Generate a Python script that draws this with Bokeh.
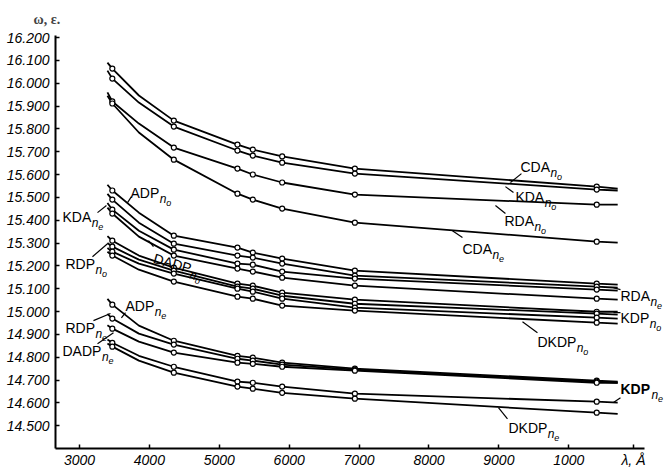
import math
from bokeh.plotting import figure
from bokeh.models import (ColumnDataSource, FixedTicker, NumeralTickFormatter,
                          LabelSet, Range1d)
from bokeh.core.properties import value
from bokeh.embed import file_html
from bokeh.resources import INLINE

# ---------------- data ----------------
# wavelengths (Å): line start, measured points ..., line end
wavelength = [3400, 3470, 3850, 4350, 5260, 5480, 5900, 6940, 10400, 10700]
measured = [False, True, False, True, True, True, True, True, True, False]

cda_no = [16.090, 16.064, 15.946, 15.836, 15.731, 15.709, 15.679, 15.626, 15.547, 15.538]
kda_no = [16.055, 16.020, 15.915, 15.810, 15.705, 15.683, 15.652, 15.604, 15.534, 15.530]
rda_no = [15.960, 15.920, 15.823, 15.718, 15.626, 15.600, 15.565, 15.512, 15.468, 15.468]
cda_ne = [15.945, 15.911, 15.784, 15.665, 15.516, 15.490, 15.451, 15.389, 15.306, 15.302]

adp_no = [15.555, 15.530, 15.433, 15.332, 15.280, 15.258, 15.232, 15.179, 15.122, 15.118]
kda_ne = [15.515, 15.490, 15.389, 15.297, 15.245, 15.236, 15.210, 15.157, 15.109, 15.104]
dadp_no = [15.475, 15.446, 15.354, 15.271, 15.210, 15.205, 15.175, 15.144, 15.096, 15.091]
rda_ne = [15.455, 15.429, 15.328, 15.245, 15.188, 15.175, 15.148, 15.113, 15.056, 15.052]
rdp_no = [15.330, 15.310, 15.245, 15.192, 15.122, 15.113, 15.083, 15.052, 14.999, 14.999]
kdp_no = [15.300, 15.284, 15.227, 15.179, 15.109, 15.100, 15.069, 15.034, 14.991, 14.986]
unlabeled_no = [15.278, 15.262, 15.210, 15.166, 15.100, 15.087, 15.056, 15.017, 14.973, 14.969]
dkdp_no = [15.262, 15.245, 15.183, 15.131, 15.065, 15.056, 15.026, 15.004, 14.951, 14.947]

adp_ne = [15.055, 15.030, 14.938, 14.872, 14.806, 14.798, 14.776, 14.750, 14.697, 14.693]
rdp_ne = [14.990, 14.969, 14.903, 14.855, 14.793, 14.785, 14.767, 14.745, 14.693, 14.688]
dadp_ne = [14.940, 14.925, 14.868, 14.820, 14.776, 14.771, 14.758, 14.741, 14.688, 14.688]
kdp_ne = [14.877, 14.863, 14.806, 14.758, 14.693, 14.688, 14.671, 14.640, 14.605, 14.601]
dkdp_ne = [14.860, 14.846, 14.785, 14.732, 14.671, 14.662, 14.644, 14.618, 14.557, 14.552]

x_ticks = [3000, 4000, 5000, 6000, 7000, 8000, 9000, 10000]
x_tick_labels = ["3000", "4000", "5000", "6000", "7000", "8000", "9000", "1000"]
x_title_pos = 10926
x_title = "λ, Å"
y_title = "ω, ε."
y_ticks = [14.5, 14.6, 14.7, 14.8, 14.9, 15.0, 15.1, 15.2, 15.3, 15.4,
           15.5, 15.6, 15.7, 15.8, 15.9, 16.0, 16.1, 16.2]

# curve labels: main text, subscript, anchor (λ, ω)
label_main = ["CDA", "KDA", "RDA", "CDA", "ADP", "KDA", "RDP", "DADP",
              "ADP", "RDP", "DADP", "RDA", "KDP", "DKDP", "KDP", "DKDP"]
label_sub = ["o", "o", "o", "e", "o", "e", "o", "o",
             "e", "e", "e", "e", "o", "o", "e", "e"]
label_lam = [9309, 9237, 9080, 8479, 3730, 2757, 2800, 4044,
             3658, 2800, 2757, 10740, 10740, 9552, 10740, 9137]
label_omega = [15.613, 15.481, 15.376, 15.253, 15.499, 15.394, 15.188, 15.214,
               15.004, 14.907, 14.806, 15.048, 14.951, 14.846, 14.640, 14.469]
label_angle = [0, 0, 0, 0, 0, 0, 0, -0.28, 0, 0, 0, 0, 0, 0, 0, 0]
label_bold = [False] * 14 + [True, False]

# leader lines from labels to curves
conn_lam0 = [9166, 9094, 8951, 8336, 3687, 3258, 3186, 3987, 3658, 3200, 3258, 10640, 10640, 9338, 10640, 8994]
conn_om0 = [15.565, 15.547, 15.464, 15.354, 15.477, 15.433, 15.240, 15.310, 14.995, 14.960, 14.859, 15.104, 14.995, 14.955, 14.601, 14.579]
conn_lam1 = [9323, 9209, 9094, 8479, 3744, 3386, 3401, 4059, 3600, 3443, 3486, 10740, 10740, 9552, 10740, 9123]
conn_om1 = [15.604, 15.521, 15.429, 15.324, 15.503, 15.464, 15.297, 15.284, 14.972, 14.991, 14.907, 15.096, 14.995, 14.907, 14.622, 14.530]

series = [cda_no, kda_no, rda_no, cda_ne, adp_no, kda_ne, dadp_no, rda_ne,
          rdp_no, kdp_no, unlabeled_no, dkdp_no, adp_ne, rdp_ne, dadp_ne, kdp_ne, dkdp_ne]

# ---------------- figure ----------------
FONT = "Liberation Sans"
SERIF = "Liberation Serif"

p = figure(width=665, height=471, output_backend="svg", toolbar_location=None,
           x_range=Range1d(2657, 11384), y_range=Range1d(14.4, 16.2307),
           min_border_left=55, min_border_right=0, min_border_top=30, min_border_bottom=23,
           title=y_title)
p.title.align = "left"
p.title.offset = -22
p.title.text_font = SERIF
p.title.text_font_size = "14px"
p.title.text_font_style = "bold"
p.title.standoff = 8
p.outline_line_color = None
p.xgrid.visible = False
p.ygrid.visible = False
p.background_fill_color = "white"
p.border_fill_color = "white"

for ax in (p.xaxis[0], p.yaxis[0]):
    ax.axis_line_width = 2
    ax.axis_line_color = "black"
    ax.major_tick_in = 4
    ax.major_tick_out = 0
    ax.major_tick_line_width = 1.5
    ax.minor_tick_in = 0
    ax.minor_tick_out = 0
    ax.major_label_text_font = FONT
    ax.major_label_text_font_style = "italic"
    ax.major_label_text_font_size = "14px"
    ax.major_label_text_color = "black"

p.xaxis.bounds = (2657, 11083)
p.yaxis.bounds = (14.4, 16.209)
p.xaxis.ticker = FixedTicker(ticks=x_ticks + [x_title_pos])
overrides = {t: s for t, s in zip(x_ticks, x_tick_labels)}
overrides[x_title_pos] = x_title
p.xaxis.major_label_overrides = overrides
p.xaxis.major_label_standoff = 3
p.yaxis.ticker = FixedTicker(ticks=y_ticks)
p.yaxis.formatter = NumeralTickFormatter(format="0.000")
p.yaxis.major_label_standoff = 6

for s in series:
    p.line(wavelength, s, line_color="black", line_width=1.8)
for s in series:
    mx = [w for w, m in zip(wavelength, measured) if m]
    my = [v for v, m in zip(s, measured) if m]
    p.scatter(mx, my, marker="circle", size=5, fill_color="white",
              line_color="black", line_width=1.2)

p.segment(conn_lam0, conn_om0, conn_lam1, conn_om1, line_color="black", line_width=1.2)

# labels with two-level subscripts
CHAR_W = {"A": 0.667, "C": 0.722, "D": 0.722, "K": 0.667, "P": 0.667, "R": 0.722}
MAIN_SIZE = 14
groups = {}
def add_piece(key, x, y, txt, dx, dy, ang):
    c, s = math.cos(ang), math.sin(ang)
    d = groups.setdefault(key, dict(x=[], y=[], text=[], xo=[], yo=[], angle=[]))
    d["x"].append(x); d["y"].append(y); d["text"].append(txt)
    d["xo"].append(dx * c - dy * s); d["yo"].append(dx * s + dy * c); d["angle"].append(ang)

for m, sub, lx, ly, ang, bold in zip(label_main, label_sub, label_lam, label_omega, label_angle, label_bold):
    w = sum(CHAR_W[ch] for ch in m) * MAIN_SIZE * (1.06 if bold else 1.0) + 0.5
    style = "bold" if bold else "normal"
    add_piece((f"{MAIN_SIZE}px", style), lx, ly, m, 0, 0, ang)
    add_piece(("12px", "italic"), lx, ly, "n", w, -5, ang)
    add_piece(("9px", "italic"), lx, ly, sub, w + 6.5, -8, ang)

for (size, style), d in groups.items():
    src = ColumnDataSource(d)
    p.add_layout(LabelSet(x="x", y="y", text="text", x_offset="xo", y_offset="yo",
                          angle="angle", source=src, text_font=value(FONT),
                          text_font_size=value(size), text_font_style=value(style),
                          text_color="black", text_baseline="alphabetic"))

open("out.html", "w").write(file_html(p, INLINE))
